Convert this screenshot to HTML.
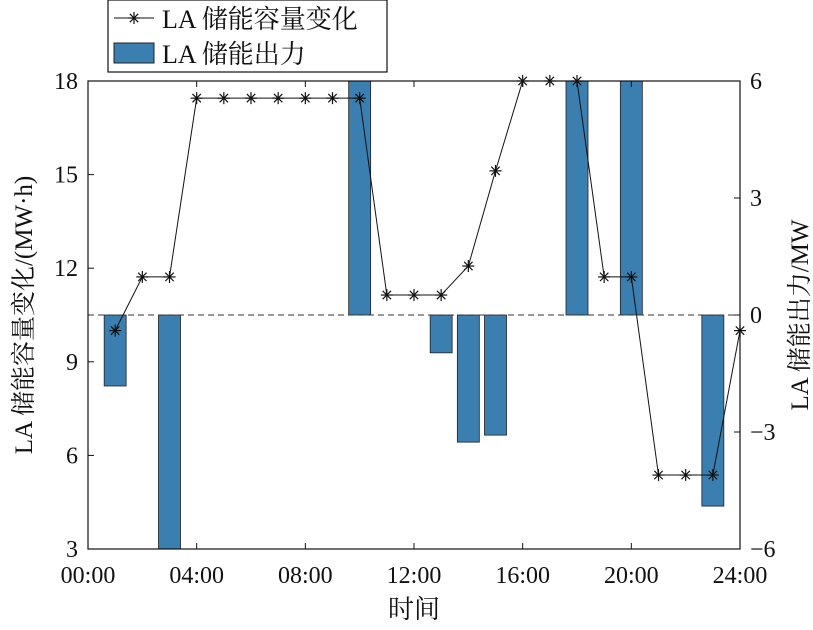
<!DOCTYPE html>
<html><head><meta charset="utf-8"><style>
body{margin:0;background:#fff}
text{font-family:"Liberation Serif","Noto Serif CJK SC",serif;fill:#111}
</style></head><body>
<svg id="c" width="813" height="625"></svg>
<script>
const hours=[1,2,3,4,5,6,7,8,9,10,11,12,13,14,15,16,17,18,19,20,21,22,23,24];
const capacity=[10.0,11.72,11.72,17.45,17.45,17.45,17.45,17.45,17.45,17.45,11.14,11.14,11.14,12.07,15.12,18,18,18,11.72,11.72,5.37,5.37,5.37,10.0];
const barHours=[1,3,10,13,14,15,18,20,23];
const barValues=[-1.82,-6.2,6,-0.97,-3.26,-3.08,6,6,-4.9];
const xTicks=[0,4,8,12,16,20,24];
const xTickLabels=["00:00","04:00","08:00","12:00","16:00","20:00","24:00"];
const yLeftTicks=[3,6,9,12,15,18];
const yRightTicks=[-6,-3,0,3,6];
const X0=88,X1=740,Y0=81,Y1=549;
const x=h=>X0+(X1-X0)*h/24;
const yl=v=>Y1-(Y1-Y0)*(v-3)/15;
const yr=v=>Y1-(Y1-Y0)*(v+6)/12;
const svg=document.getElementById('c');const NS='http://www.w3.org/2000/svg';
function mk(t,a,p){const e=document.createElementNS(NS,t);for(const k in a)e.setAttribute(k,a[k]);(p||svg).appendChild(e);return e;}
mk('defs',{}).innerHTML='<clipPath id="pc"><rect x="88" y="81" width="652" height="468"/></clipPath>';
const bars=mk('g',{'clip-path':'url(#pc)'});


barHours.forEach((h,i)=>{const v=barValues[i];const a=yr(0),b=yr(v);
const r=mk('rect',{x:x(h)-11,y:Math.min(a,b),width:22,height:Math.abs(b-a),fill:'#3a7fb0',stroke:'#222','stroke-width':0.8},bars);

});
const zl=mk('line',{x1:X0,x2:X1,y1:yr(0),y2:yr(0),stroke:'#333','stroke-dasharray':'6,4','stroke-width':1});


const frame=mk('rect',{x:X0,y:Y0,width:X1-X0,height:Y1-Y0,fill:'none',stroke:'#111','stroke-width':1.2});


xTicks.forEach((t,i)=>{mk('line',{x1:x(t),x2:x(t),y1:Y1,y2:Y1-6,stroke:'#111'});mk('line',{x1:x(t),x2:x(t),y1:Y0,y2:Y0+6,stroke:'#111'});
const tx=mk('text',{x:x(t),y:Y1+34,'text-anchor':'middle','font-size':24});tx.textContent=xTickLabels[i];

});
yLeftTicks.forEach(t=>{mk('line',{x1:X0,x2:X0+6,y1:yl(t),y2:yl(t),stroke:'#111'});
const tx=mk('text',{x:X0-10,y:yl(t)+8,'text-anchor':'end','font-size':24});tx.textContent=t;

});
yRightTicks.forEach(t=>{mk('line',{x1:X1,x2:X1-6,y1:yr(t),y2:yr(t),stroke:'#111'});
const tx=mk('text',{x:X1+10,y:yr(t)+8,'font-size':24});tx.textContent=(t<0?'\u2212'+(-t):t);

});
const pts=hours.map((h,i)=>x(h)+','+yl(capacity[i])).join(' ');
const pl=mk('polyline',{points:pts,fill:'none',stroke:'#111','stroke-width':1});


function star(cx,cy,p){const g=mk('g',{stroke:'#111','stroke-width':1.2},p);const s=6;
mk('line',{x1:cx-s,x2:cx+s,y1:cy,y2:cy},g);mk('line',{x1:cx,x2:cx,y1:cy-s,y2:cy+s},g);
mk('line',{x1:cx-s*.7,x2:cx+s*.7,y1:cy-s*.7,y2:cy+s*.7},g);mk('line',{x1:cx-s*.7,x2:cx+s*.7,y1:cy+s*.7,y2:cy-s*.7},g);return g;}
hours.forEach((h,i)=>{const g=star(x(h),yl(capacity[i]));

});
const xt=mk('text',{x:414,y:618,'text-anchor':'middle','font-size':26});xt.textContent='时间';


const ylt=mk('text',{x:0,y:0,transform:'translate(32,315) rotate(-90)','text-anchor':'middle','font-size':25});ylt.textContent='LA 储能容量变化/(MW·h)';


const yrt=mk('text',{x:0,y:0,transform:'translate(808,315) rotate(-90)','text-anchor':'middle','font-size':25});yrt.textContent='LA 储能出力/MW';


const lg=mk('g',{});


mk('rect',{x:108,y:0,width:279,height:72,fill:'#fff',stroke:'#111','stroke-width':1.2},lg);
mk('line',{x1:114,x2:154,y1:18,y2:18,stroke:'#111'},lg);star(134,18,lg);
const l1=mk('text',{x:162,y:28,'font-size':26},lg);l1.textContent='LA 储能容量变化';


mk('rect',{x:114,y:43,width:40,height:20,fill:'#3a7fb0',stroke:'#222'},lg);
const l2=mk('text',{x:162,y:63,'font-size':26},lg);l2.textContent='LA 储能出力';


</script></body></html>
